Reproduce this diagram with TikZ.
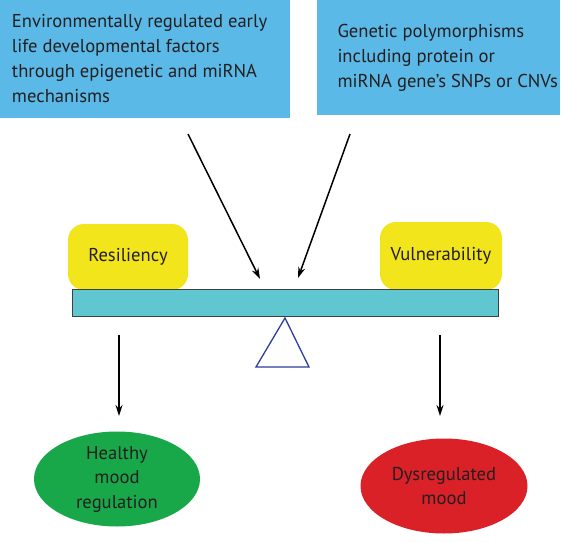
\documentclass[tikz,border=0pt]{standalone}
\usepackage{fontspec}
\setmainfont{PT Sans}
\usetikzlibrary{arrows.meta,shapes.geometric}
\definecolor{boxblue}{HTML}{5BB9E7}
\definecolor{yel}{HTML}{F2E51C}
\definecolor{beamc}{HTML}{60C6CF}
\definecolor{grn}{HTML}{18A84A}
\definecolor{rd}{HTML}{DA2128}
\definecolor{txt}{HTML}{231F20}
\definecolor{tri}{HTML}{2E3C9A}
\tikzset{
  bluebox/.style={rectangle, fill=boxblue, inner sep=0pt, text=txt, font=\fontsize{18.6}{25}\selectfont},
  yelbox/.style={rectangle, rounded corners=16pt, fill=yel, inner sep=0pt, text=txt, font=\fontsize{18.6}{25}\selectfont},
  oval/.style={ellipse, inner sep=0pt, text=txt, align=center, font=\fontsize{18.6}{24.5}\selectfont},
  arr/.style={-{Stealth[length=11pt,width=7pt]}, line width=1.5pt, black},
}
\begin{document}
\begin{tikzpicture}[x=1pt,y=-1pt]
\useasboundingbox (0,0) rectangle (565,543);
% top boxes
\node[bluebox, minimum width=290pt, minimum height=118pt] (env) at (145,59)
  {\parbox{266pt}{\raggedright Environmentally regulated early\\ life developmental factors\\ through epigenetic and miRNA\\ mechanisms}};
\node[bluebox, minimum width=243pt, minimum height=115pt] (gen) at (438.5,57.5)
  {\hspace*{20pt}\parbox{222pt}{\raggedright Genetic polymorphisms\\ including protein or\\ miRNA gene’s SNPs or CNVs}};
% yellow boxes
\node[yelbox, minimum width=120pt, minimum height=66pt] (res) at (128,257) {Resiliency};
\node[yelbox, minimum width=122pt, minimum height=68pt] (vul) at (441,256) {Vulnerability};
% beam
\node[rectangle, fill=beamc, draw=black!75, line width=1pt, minimum width=426pt, minimum height=27pt, inner sep=0pt] (beam) at (285,302.5) {};
% fulcrum
\draw[tri, line width=1.3pt] (285,318) coordinate (apex) -- (309,367) -- (256,367) -- cycle;
% diagonal arrows
\coordinate (a1s) at (188,134);
\coordinate (a1e) at (260,279);
\coordinate (a2s) at (350,134);
\coordinate (a2e) at (298,278);
\draw[arr] (a1s) -- (a1e);
\draw[arr] (a2s) -- (a2e);
% outcome ovals
\node[oval, fill=grn, minimum width=166pt, minimum height=95pt] (hea) at (117,479) {Healthy\\ mood\\ regulation};
\node[oval, fill=rd, minimum width=167pt, minimum height=95pt] (dys) at (444,486) {Dysregulated\\ mood};
% down arrows
\coordinate (d1s) at (119,335);
\coordinate (d1e) at (119,416);
\coordinate (d2s) at (440,335);
\coordinate (d2e) at (440,416);
\draw[arr] (d1s) -- (d1e);
\draw[arr] (d2s) -- (d2e);
\end{tikzpicture}
\end{document}
